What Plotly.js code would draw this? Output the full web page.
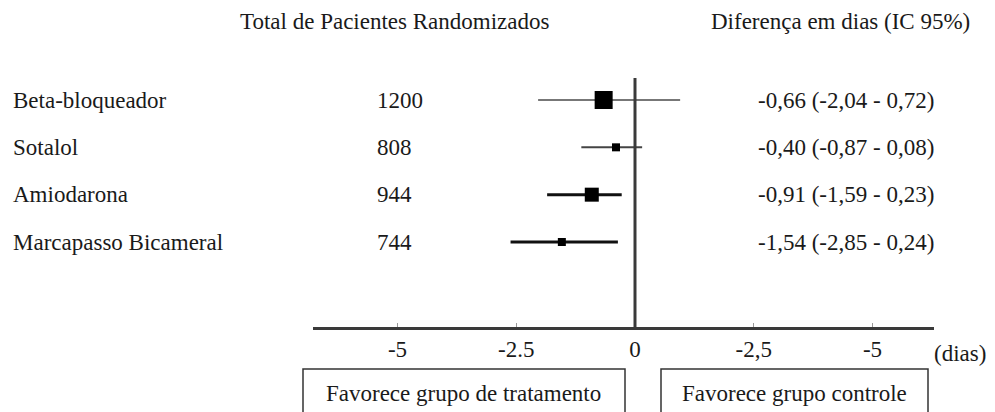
<!DOCTYPE html>
<html>
<head>
<meta charset="utf-8">
<script src="https://cdn.plot.ly/plotly-3.0.1.min.js"></script>
<style>
  html, body { margin: 0; padding: 0; background: #fff; font-family: 'Liberation Serif'; }
  #chart { width: 995px; height: 412px; }
</style>
</head>
<body>
<div id="chart"></div>
<script>
// ---- data ----
const categories = ['Beta-bloqueador', 'Sotalol', 'Amiodarona', 'Marcapasso Bicameral'];
const totals = [1200, 808, 944, 744];
const estimates = [-0.66, -0.40, -0.91, -1.54];
// CI ends as drawn in the picture
const ciLower = [-2.04, -1.13, -1.85, -2.62];
const ciUpper = [0.95, 0.15, -0.28, -0.36];
const ciLabels = ['-0,66 (-2,04 - 0,72)', '-0,40 (-0,87 - 0,08)', '-0,91 (-1,59 - 0,23)', '-1,54 (-2,85 - 0,24)'];
const weights = [18, 8, 14, 8];          // marker sizes (study weight)
const tickVals = [-5, -2.5, 0, 2.5, 5];
const tickLabels = ['-5', '-2.5', '0', '-2,5', '-5'];
const headerLeft = 'Total de Pacientes Randomizados';
const headerRight = 'Diferença em dias (IC 95%)';
const unitLabel = '(dias)';
const favorLeft = 'Favorece grupo de tratamento';
const favorRight = 'Favorece grupo controle';

// ---- styles ----
const FS = 23;
const lineColors = ['#777', '#444', '#111', '#111'];
const lineWidths = [2, 2, 3, 3];
const mkFont = () => ({ family: 'Liberation Serif', size: FS, color: '#1a1a1a' });

const n = categories.length;
const rowY = categories.map((c, i) => n - i);

const traces = categories.map((c, i) => ({
  type: 'scatter',
  mode: 'markers',
  x: [estimates[i]],
  y: [rowY[i]],
  marker: { symbol: 'square', size: weights[i], color: '#000' },
  error_x: {
    type: 'data', symmetric: false,
    array: [ciUpper[i] - estimates[i]],
    arrayminus: [estimates[i] - ciLower[i]],
    width: 0, thickness: lineWidths[i], color: lineColors[i]
  },
  hoverinfo: 'skip',
  showlegend: false,
  cliponaxis: false
}));

const annotations = [];
categories.forEach((c, i) => {
  annotations.push({ xref: 'paper', yref: 'y', x: 11 / 995, y: rowY[i], xanchor: 'left', yanchor: 'middle',
    text: c, showarrow: false, font: mkFont() });
  annotations.push({ xref: 'paper', yref: 'y', x: 375 / 995, y: rowY[i], xanchor: 'left', yanchor: 'middle',
    text: String(totals[i]), showarrow: false, font: mkFont() });
  annotations.push({ xref: 'paper', yref: 'y', x: 756 / 995, y: rowY[i], xanchor: 'left', yanchor: 'middle',
    text: ciLabels[i], showarrow: false, font: mkFont() });
});
const plotH = 327;
const py = p => (plotH - p) / plotH;   // pixel row -> paper y
annotations.push({ xref: 'paper', yref: 'paper', x: 394 / 995, y: py(22), xanchor: 'center', yanchor: 'middle',
  text: headerLeft, showarrow: false, font: mkFont() });
annotations.push({ xref: 'paper', yref: 'paper', x: 840 / 995, y: py(22), xanchor: 'center', yanchor: 'middle',
  text: headerRight, showarrow: false, font: mkFont() });
annotations.push({ xref: 'paper', yref: 'paper', x: 960 / 995, y: py(353), xanchor: 'center', yanchor: 'middle',
  text: unitLabel, showarrow: false, font: mkFont() });
annotations.push({ xref: 'paper', yref: 'paper', x: 463 / 995, y: py(393), xanchor: 'center', yanchor: 'middle',
  text: favorLeft, showarrow: false, font: mkFont() });
annotations.push({ xref: 'paper', yref: 'paper', x: 794 / 995, y: py(393), xanchor: 'center', yanchor: 'middle',
  text: favorRight, showarrow: false, font: mkFont() });

const shapes = [
  { type: 'line', xref: 'x', yref: 'paper', x0: 0, x1: 0, y0: py(78), y1: py(327),
    line: { color: '#3a3a3a', width: 3 } },
  { type: 'rect', xref: 'paper', yref: 'paper', x0: 303 / 995, x1: 625 / 995, y0: py(369), y1: py(440),
    line: { color: '#333', width: 1.5 }, fillcolor: 'rgba(0,0,0,0)' },
  { type: 'rect', xref: 'paper', yref: 'paper', x0: 661 / 995, x1: 928 / 995, y0: py(369), y1: py(440),
    line: { color: '#333', width: 1.5 }, fillcolor: 'rgba(0,0,0,0)' }
];

const pxPerUnit = 47.5, zeroPx = 635;
const axL = 313, axR = 934;
const layout = {
  width: 995, height: 412,
  margin: { l: 0, r: 0, t: 0, b: 412 - plotH, pad: 0 },
  paper_bgcolor: '#fff', plot_bgcolor: 'rgba(0,0,0,0)',
  showlegend: false,
  xaxis: {
    domain: [axL / 995, axR / 995],
    range: [(axL - zeroPx) / pxPerUnit, (axR - zeroPx) / pxPerUnit],
    tickvals: tickVals, ticktext: tickLabels,
    ticks: 'inside', ticklen: 4, tickcolor: '#999', tickwidth: 1,
    showline: true, linecolor: '#3a3a3a', linewidth: 2.5,
    showgrid: false, zeroline: false, fixedrange: true,
    tickfont: mkFont()
  },
  yaxis: {
    range: [1 - 85 / 47.33, 4 + 100 / 47.33],
    visible: false, fixedrange: true
  },
  annotations: annotations,
  shapes: shapes
};

Plotly.newPlot('chart', traces, layout, { displayModeBar: false, staticPlot: true });
</script>
</body>
</html>
